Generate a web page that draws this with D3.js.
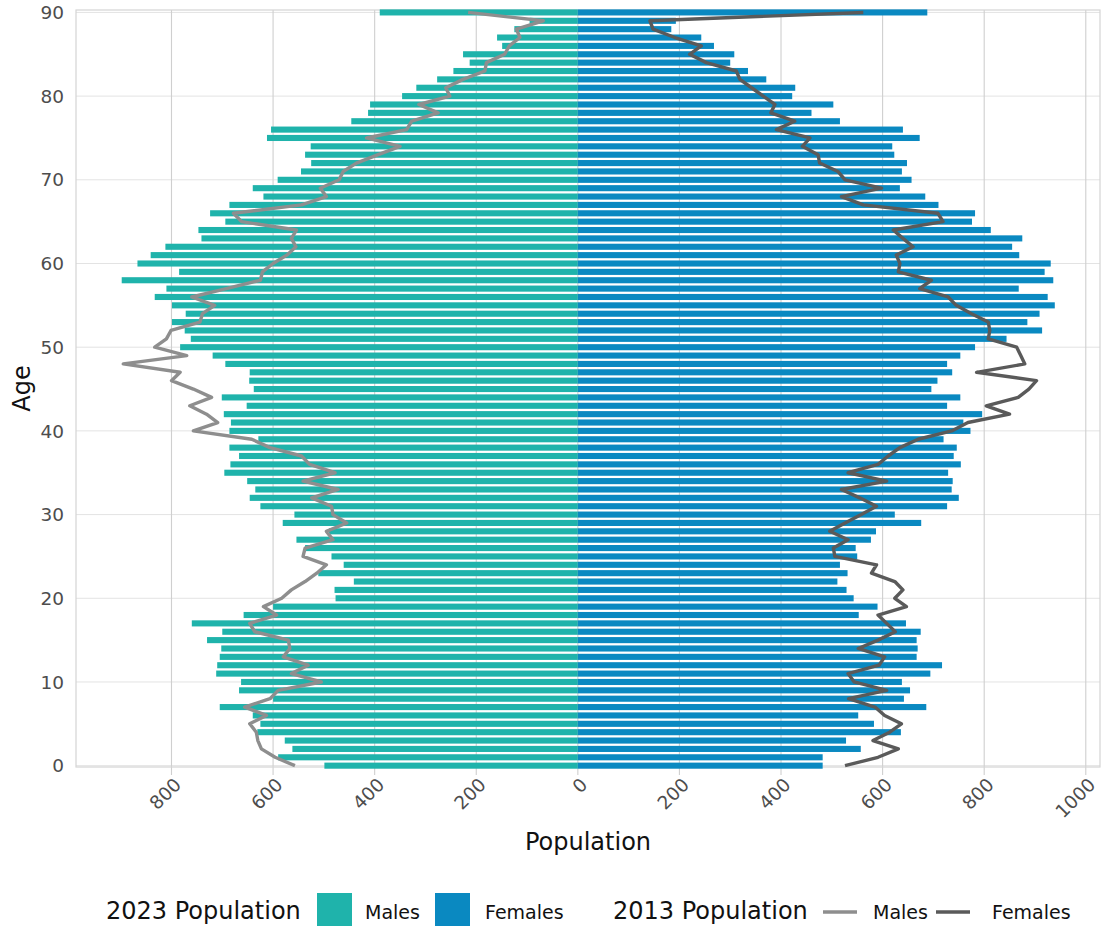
<!DOCTYPE html>
<html>
<head>
<meta charset="utf-8">
<script src="https://cdn.jsdelivr.net/npm/d3@7"></script>
<style>
  html, body { margin: 0; padding: 0; background: #ffffff; }
  svg { display: block; font-family: "DejaVu Sans", sans-serif; }
</style>
</head>
<body>
<svg id="chart" width="1101" height="926"></svg>
<script>
// ---- Data (ages 0..90) ----
const ages = d3.range(0, 91);

const males2023 = [499,590,562,577,631,625,640,705,600,667,
  663,712,710,705,702,730,700,760,658,600,
  477,479,441,511,461,485,537,554,490,581,
  558,625,646,635,651,696,684,667,686,629,
  686,683,697,652,701,638,647,646,694,719,
  783,762,774,799,772,799,833,810,898,785,
  867,841,812,741,747,694,724,686,619,640,
  591,545,525,537,526,612,604,446,413,409,
  346,318,277,245,213,226,149,159,125,95,
  390];

const females2023 = [482,482,557,528,636,583,552,686,642,654,
  638,694,717,667,669,667,675,646,553,590,
  543,529,511,531,516,550,547,577,587,676,
  624,727,750,736,738,729,754,740,746,720,
  773,759,796,727,753,696,708,737,727,753,
  782,844,914,885,909,939,925,868,936,919,
  931,869,855,875,813,776,782,710,684,634,
  657,638,648,623,619,673,640,516,460,503,
  422,428,371,335,300,308,268,243,184,193,
  688];

const males2013 = [557,596,623,630,633,646,613,656,606,590,
  505,564,531,580,567,570,636,646,593,619,
  583,564,537,514,495,541,537,482,495,455,
  482,485,524,472,541,478,528,544,606,642,
  757,709,731,764,721,757,800,783,895,770,
  833,810,801,744,739,715,760,692,625,621,
  600,573,555,564,554,662,678,544,495,507,
  470,462,436,393,350,416,337,327,275,313,
  252,260,226,183,180,144,135,114,121,68,
  216];

const females2013 = [526,591,631,581,614,637,604,585,533,608,
  544,532,593,604,552,591,625,608,591,647,
  624,640,624,578,588,506,503,532,496,526,
  558,588,555,519,608,532,591,611,634,670,
  736,768,850,804,867,888,903,785,880,872,
  864,808,811,808,775,745,729,673,696,631,
  634,627,660,640,621,719,709,562,519,598,
  526,512,476,473,442,457,391,427,380,388,
  365,342,319,312,253,220,243,191,148,142,
  562];

const xTicks = [-800,-600,-400,-200,0,200,400,600,800,1000];
const yTicks = [0,10,20,30,40,50,60,70,80,90];

const legendBarTitle = "2023 Population";
const legendLineTitle = "2013 Population";
const legendLabels = ["Males","Females"];

// ---- Styles ----
const colMale = "#1fb3ab";
const colFemale = "#0a89c1";
const colLineMale = "#8e8e8e";
const colLineFemale = "#5a5a5a";
const textGrey = "#4d4d4d";

// ---- Layout ----
const panel = {left: 76, right: 1100, top: 10, bottom: 767};

const x = d3.scaleLinear().domain([-988, 1028]).range([panel.left, panel.right]);
const y = d3.scaleLinear().domain([-0.16, 90.29]).range([panel.bottom, panel.top]);
const barH = 6.1;

const svg = d3.select("#chart");

// Grid
const grid = svg.append("g");
grid.selectAll("line.hy").data(yTicks).enter().append("line")
  .attr("x1", panel.left).attr("x2", panel.right)
  .attr("y1", d => y(d)).attr("y2", d => y(d))
  .attr("stroke", "#e3e3e3").attr("stroke-width", 1);
grid.selectAll("line.vx").data(xTicks).enter().append("line")
  .attr("x1", d => x(d)).attr("x2", d => x(d))
  .attr("y1", panel.top).attr("y2", panel.bottom + 8)
  .attr("stroke", "#cfcfcf").attr("stroke-width", 1.1);

// Panel border
svg.append("rect")
  .attr("x", panel.left).attr("y", panel.top)
  .attr("width", panel.right - panel.left).attr("height", panel.bottom - panel.top)
  .attr("fill", "none").attr("stroke", "#d4d4d4").attr("stroke-width", 1.2);

// Bars
const bars = svg.append("g");
bars.selectAll("rect.m").data(ages).enter().append("rect")
  .attr("x", a => x(-males2023[a]))
  .attr("width", a => x(0) - x(-males2023[a]))
  .attr("y", a => y(a) - barH / 2)
  .attr("height", barH)
  .attr("fill", colMale);
bars.selectAll("rect.f").data(ages).enter().append("rect")
  .attr("x", x(0))
  .attr("width", a => x(females2023[a]) - x(0))
  .attr("y", a => y(a) - barH / 2)
  .attr("height", barH)
  .attr("fill", colFemale);

// Lines
const lineM = d3.line().x(a => x(-males2013[a])).y(a => y(a));
const lineF = d3.line().x(a => x(females2013[a])).y(a => y(a));
svg.append("path").attr("d", lineM(ages)).attr("fill", "none")
  .attr("stroke", colLineMale).attr("stroke-width", 3.4).attr("stroke-linejoin", "round");
svg.append("path").attr("d", lineF(ages)).attr("fill", "none")
  .attr("stroke", colLineFemale).attr("stroke-width", 3.4).attr("stroke-linejoin", "round");

// Y axis labels
svg.append("g").selectAll("text").data(yTicks).enter().append("text")
  .attr("x", 64).attr("y", d => y(d)).attr("dy", "0.36em")
  .attr("text-anchor", "end").attr("font-size", 18.5).attr("fill", textGrey)
  .text(d => d);

// X axis labels (rotated 45)
const xl = svg.append("g").selectAll("g").data(xTicks).enter().append("g")
  .attr("transform", d => `translate(${x(d) + 1},${panel.bottom + 9}) rotate(-45)`);
xl.append("text")
  .attr("text-anchor", "end").attr("dy", "0.75em")
  .attr("font-size", 18.5).attr("fill", textGrey)
  .text(d => Math.abs(d));

// Axis titles
svg.append("text").attr("x", (panel.left + panel.right) / 2).attr("y", 850)
  .attr("text-anchor", "middle").attr("font-size", 24).attr("fill", "#111")
  .text("Population");
svg.append("text")
  .attr("transform", `translate(30,${(panel.top + panel.bottom) / 2}) rotate(-90)`)
  .attr("text-anchor", "middle").attr("font-size", 24).attr("fill", "#111")
  .text("Age");

// Legend
const lg = svg.append("g");
const base = 919;
lg.append("text").attr("x", 106).attr("y", base).attr("font-size", 24).attr("fill", "#111").text(legendBarTitle);
lg.append("rect").attr("x", 317).attr("y", 893).attr("width", 35).attr("height", 35).attr("fill", colMale);
lg.append("text").attr("x", 365).attr("y", base).attr("font-size", 19).attr("fill", "#111").text(legendLabels[0]);
lg.append("rect").attr("x", 435).attr("y", 893).attr("width", 35).attr("height", 35).attr("fill", colFemale);
lg.append("text").attr("x", 485).attr("y", base).attr("font-size", 19).attr("fill", "#111").text(legendLabels[1]);

lg.append("text").attr("x", 613).attr("y", base).attr("font-size", 24).attr("fill", "#111").text(legendLineTitle);
lg.append("line").attr("x1", 823).attr("x2", 857).attr("y1", 912).attr("y2", 912)
  .attr("stroke", colLineMale).attr("stroke-width", 3.4);
lg.append("text").attr("x", 873).attr("y", base).attr("font-size", 19).attr("fill", "#111").text(legendLabels[0]);
lg.append("line").attr("x1", 936).attr("x2", 970).attr("y1", 912).attr("y2", 912)
  .attr("stroke", colLineFemale).attr("stroke-width", 3.4);
lg.append("text").attr("x", 992).attr("y", base).attr("font-size", 19).attr("fill", "#111").text(legendLabels[1]);
</script>
</body>
</html>
